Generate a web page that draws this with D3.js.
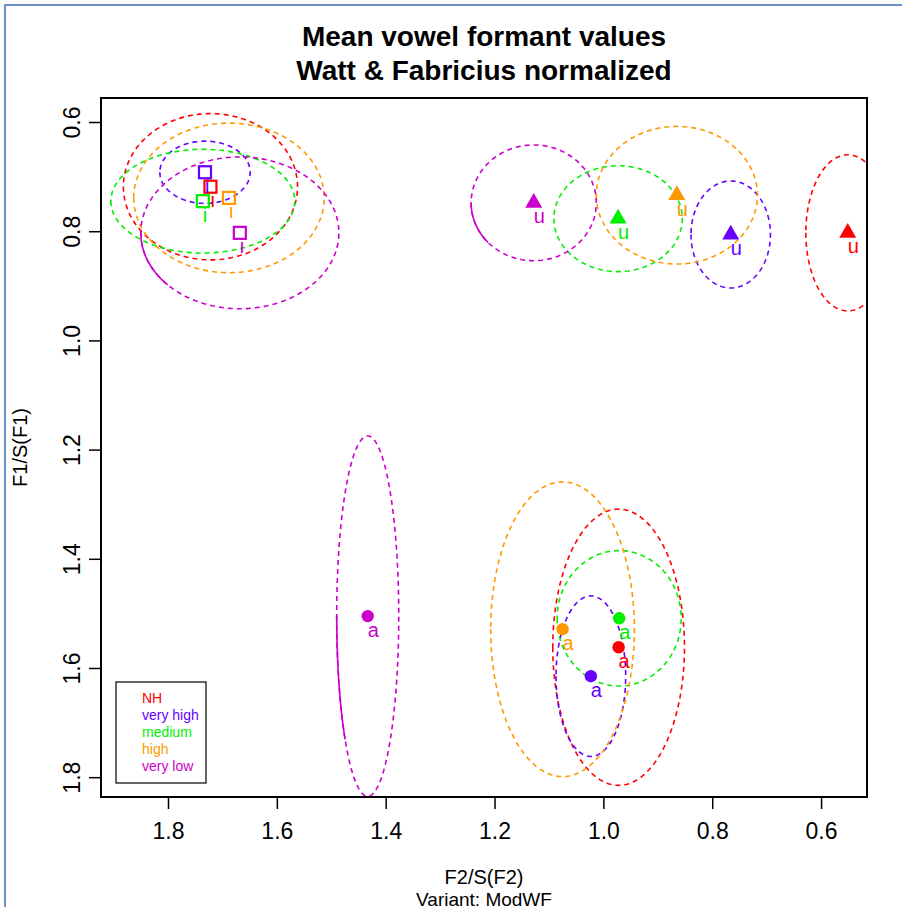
<!DOCTYPE html>
<html>
<head>
<meta charset="utf-8">
<script src="https://cdn.jsdelivr.net/npm/d3@7"></script>
<style>
  body { margin: 0; background: #fff; }
  text { font-family: "Liberation Sans", Arial, sans-serif; }
</style>
</head>
<body>
<div id="chart"></div>
<script>
var width = 902,
    height = 907,
    plotL = 101, plotR = 867, plotT = 98, plotB = 797;

// speaker groups
var groups = ["NH", "very high", "medium", "high", "very low"];
var groupColors = ["#FF0000", "#6600FF", "#00EE00", "#FF9900", "#CC00CC"];

// vowel i : means and ellipse half-widths
var iF2 = [1.722, 1.732, 1.736, 1.688, 1.668];
var iF1 = [0.7185, 0.692, 0.745, 0.739, 0.803];
var iF2sd = [0.160, 0.083, 0.169, 0.175, 0.182];
var iF1sd = [0.134, 0.057, 0.095, 0.137, 0.139];

// vowel u
var uF2 = [0.551, 0.766, 0.973, 0.865, 1.128];
var uF1 = [0.803, 0.806, 0.777, 0.734, 0.748];
var uF2sd = [0.077, 0.073, 0.118, 0.148, 0.115];
var uF1sd = [0.143, 0.098, 0.097, 0.126, 0.106];

// vowel a
var aF2 = [0.972, 1.023, 0.971, 1.075, 1.433];
var aF1 = [1.562, 1.615, 1.509, 1.529, 1.505];
var aF2sd = [0.121, 0.064, 0.114, 0.132, 0.057];
var aF1sd = [0.253, 0.147, 0.124, 0.270, 0.330];

var xTicks = [1.8, 1.6, 1.4, 1.2, 1.0, 0.8, 0.6];
var yTicks = [0.6, 0.8, 1.0, 1.2, 1.4, 1.6, 1.8];

var vowels = [
  {label: "i", shape: "square", f2: iF2, f1: iF1, sx: iF2sd, sy: iF1sd},
  {label: "u", shape: "triangle", f2: uF2, f1: uF1, sx: uF2sd, sy: uF1sd},
  {label: "a", shape: "circle", f2: aF2, f1: aF1, sx: aF2sd, sy: aF1sd}
];

var x = d3.scaleLinear().domain([1.9231, 0.5156]).range([plotL, plotR]);
var y = d3.scaleLinear().domain([0.5560, 1.8363]).range([plotT, plotB]);

var svg = d3.select("#chart").append("svg")
    .attr("width", width)
    .attr("height", height);

// outer blue frame
svg.append("path")
    .attr("d", "M5," + height + "V5H" + width)
    .attr("fill", "none")
    .attr("stroke", "#6D8FC9")
    .attr("stroke-width", 2);

svg.append("clipPath").attr("id", "plotclip")
  .append("rect")
    .attr("x", plotL).attr("y", plotT)
    .attr("width", plotR - plotL).attr("height", plotB - plotT);

var plot = svg.append("g").attr("clip-path", "url(#plotclip)");

function ellipse(cx, cy, rx, ry, t0, t1) {
  var pts = d3.range(0, 201).map(function(k) {
    var t = t0 + (t1 - t0) * k / 200;
    return [cx + rx * Math.cos(t), cy + ry * Math.sin(t)];
  });
  return d3.line()
      .x(function(d) { return x(d[0]); })
      .y(function(d) { return y(d[1]); })(pts);
}

// ellipses
vowels.forEach(function(v) {
  groups.forEach(function(g, j) {
    plot.append("path")
        .attr("d", ellipse(v.f2[j], v.f1[j], v.sx[j], v.sy[j], 0, 2 * Math.PI))
        .attr("fill", "none")
        .attr("stroke", groupColors[j])
        .attr("stroke-width", 1.6)
        .attr("stroke-dasharray", "5,4");
    if (g == "very low") {
      // the original shows one stretch of this outline drawn solid (lower left)
      plot.append("path")
          .attr("d", ellipse(v.f2[j], v.f1[j], v.sx[j], v.sy[j], 0, 0.24 * Math.PI))
          .attr("fill", "none")
          .attr("stroke", groupColors[j])
          .attr("stroke-width", 1.6);
    }
  });
});

// points and labels
vowels.forEach(function(v) {
  groups.forEach(function(g, j) {
    var px = x(v.f2[j]), py = y(v.f1[j]), c = groupColors[j];
    if (v.shape == "square") {
      plot.append("rect")
          .attr("x", px - 6).attr("y", py - 6)
          .attr("width", 12).attr("height", 12)
          .attr("fill", "none").attr("stroke", c).attr("stroke-width", 2.2);
    } else if (v.shape == "triangle") {
      plot.append("path")
          .attr("transform", "translate(" + px + "," + py + ")")
          .attr("d", d3.symbol().type(d3.symbolTriangle).size(125)())
          .attr("fill", c);
    } else {
      plot.append("circle")
          .attr("cx", px).attr("cy", py).attr("r", 6.2)
          .attr("fill", c);
    }
    plot.append("text")
        .attr("x", px).attr("y", py + 20.5)
        .attr("font-size", 20)
        .attr("fill", c)
        .text(v.label);
  });
});

// box
svg.append("rect")
    .attr("x", plotL).attr("y", plotT)
    .attr("width", plotR - plotL).attr("height", plotB - plotT)
    .attr("fill", "none").attr("stroke", "#000").attr("stroke-width", 2);

// axes
var xAxis = svg.append("g")
    .attr("transform", "translate(0," + plotB + ")")
    .call(d3.axisBottom(x).tickValues(xTicks).tickFormat(d3.format(".1f"))
      .tickSize(12).tickSizeOuter(0));
xAxis.select(".domain").remove();
xAxis.selectAll("line").attr("stroke", "#000").attr("stroke-width", 1.5);
xAxis.selectAll("text")
    .attr("y", 42).attr("dy", 0)
    .attr("font-size", 23)
    .attr("font-family", "Liberation Sans, Arial, sans-serif")
    .attr("fill", "#000");

var yAxis = svg.append("g")
    .attr("transform", "translate(" + plotL + ",0)")
    .call(d3.axisLeft(y).tickValues(yTicks).tickFormat(d3.format(".1f"))
      .tickSize(12).tickSizeOuter(0));
yAxis.select(".domain").remove();
yAxis.selectAll("line").attr("stroke", "#000").attr("stroke-width", 1.5);
yAxis.selectAll("text")
    .attr("x", 0).attr("dy", 0)
    .attr("text-anchor", "middle")
    .attr("transform", "translate(-21,0) rotate(-90)")
    .attr("font-size", 23)
    .attr("font-family", "Liberation Sans, Arial, sans-serif")
    .attr("fill", "#000");

// titles
var cx = (plotL + plotR) / 2;
svg.append("text")
    .attr("x", cx).attr("y", 46)
    .attr("text-anchor", "middle")
    .attr("font-size", 28).attr("font-weight", "bold")
    .text("Mean vowel formant values");
svg.append("text")
    .attr("x", cx).attr("y", 80)
    .attr("text-anchor", "middle")
    .attr("font-size", 28).attr("font-weight", "bold")
    .text("Watt & Fabricius normalized");

svg.append("text")
    .attr("x", cx).attr("y", 884)
    .attr("text-anchor", "middle")
    .attr("font-size", 20)
    .text("F2/S(F2)");
svg.append("text")
    .attr("x", cx).attr("y", 906)
    .attr("text-anchor", "middle")
    .attr("font-size", 19)
    .text("Variant: ModWF");
svg.append("text")
    .attr("transform", "translate(27," + (plotT + plotB) / 2 + ") rotate(-90)")
    .attr("text-anchor", "middle")
    .attr("font-size", 20)
    .text("F1/S(F1)");

// legend
var legend = svg.append("g");
legend.append("rect")
    .attr("x", 116).attr("y", 682)
    .attr("width", 90).attr("height", 101)
    .attr("fill", "#fff").attr("stroke", "#000").attr("stroke-width", 1.2);
legend.selectAll("text.leg")
    .data(groups)
  .enter().append("text")
    .attr("class", "leg")
    .attr("x", 142)
    .attr("y", function(d, i) { return 703 + i * 17.1; })
    .attr("font-size", 14)
    .attr("fill", function(d, i) { return groupColors[i]; })
    .text(function(d) { return d; });
</script>
</body>
</html>
